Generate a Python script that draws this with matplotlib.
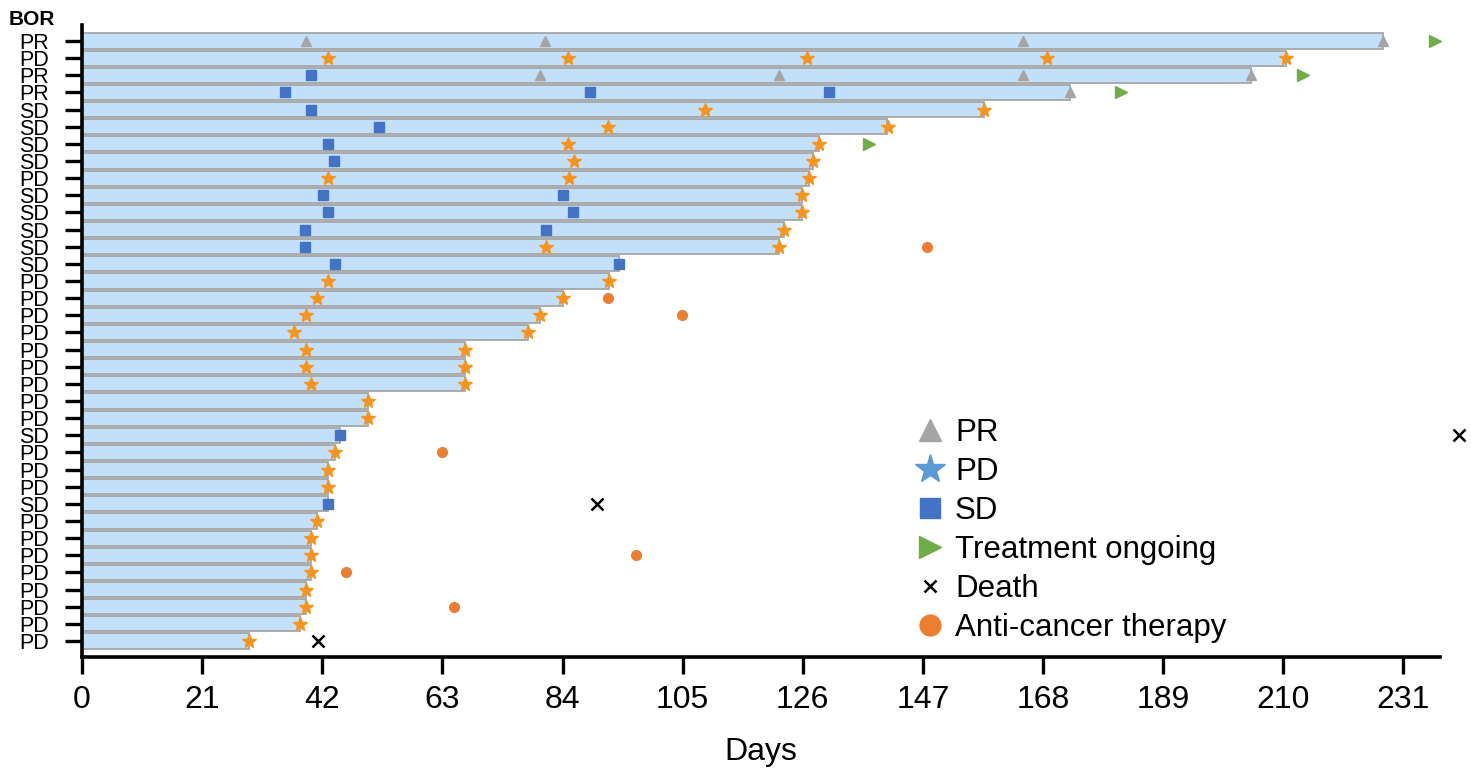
import matplotlib
matplotlib.use("Agg")
import matplotlib.pyplot as plt
from matplotlib.lines import Line2D

plt.rcParams['font.family'] = ['Liberation Sans', 'DejaVu Sans']

# best overall response per patient, top to bottom
bor = ["PR", "PD", "PR", "PR", "SD", "SD", "SD", "SD", "PD", "SD", "SD", "SD",
       "SD", "SD", "PD", "PD", "PD", "PD", "PD", "PD", "PD", "PD", "PD", "SD",
       "PD", "PD", "PD", "SD", "PD", "PD", "PD", "PD", "PD", "PD", "PD", "PD"]

# treatment duration (days)
duration = [227.4, 210.5, 204.4, 172.7, 157.7, 140.7, 128.8, 127.8, 127.1, 125.9,
            125.9, 122.7, 121.9, 93.9, 92.1, 84.1, 80.1, 78.0, 67.0, 67.0, 67.0,
            50.0, 50.0, 45.1, 44.2, 43.0, 43.0, 43.0, 41.1, 40.0, 40.0, 40.0,
            39.2, 39.2, 38.1, 29.2]

# assessments: (row, day)
pr_rows = [0, 0, 0, 0, 2, 2, 2, 2, 3]
pr_days = [39.2, 81.0, 164.5, 227.4, 80.0, 121.9, 164.5, 204.4, 172.7]

pd_rows = [1, 1, 1, 1, 1, 4, 4, 5, 5, 6, 6, 7, 7, 8, 8, 8, 9, 10, 11, 12, 12,
           14, 14, 15, 15, 16, 16, 17, 17, 18, 18, 19, 19, 20, 20, 21, 22, 24,
           25, 26, 28, 29, 30, 31, 32, 33, 34, 35]
pd_days = [43.0, 85.0, 126.7, 168.7, 210.5, 108.9, 157.7, 92.0, 140.9, 85.0, 128.8,
           86.0, 127.8, 43.0, 85.1, 127.1, 125.9, 125.9, 122.7, 81.1, 121.9,
           43.0, 92.1, 41.1, 84.1, 39.2, 80.1, 37.1, 78.0, 39.2, 67.0, 39.2, 67.0,
           40.0, 67.0, 50.0, 50.0, 44.2, 43.0, 43.0, 41.1, 40.0, 40.0, 40.0,
           39.2, 39.2, 38.1, 29.2]

sd_rows = [2, 3, 3, 3, 4, 5, 6, 7, 9, 9, 10, 10, 11, 11, 12, 13, 13, 23, 27]
sd_days = [40.0, 35.5, 88.8, 130.6, 40.0, 51.9, 43.0, 44.0, 42.1, 84.1, 43.0, 85.8,
           39.0, 81.1, 39.0, 44.2, 93.9, 45.1, 43.0]

ongoing_rows = [0, 2, 3, 6]
ongoing_days = [236.5, 213.5, 181.6, 137.6]

death_rows = [23, 27, 35]
death_days = [240.7, 90.0, 41.3]

therapy_rows = [12, 15, 16, 24, 30, 31, 33]
therapy_days = [147.7, 92.0, 104.9, 62.9, 96.9, 46.2, 65.0]

x_ticks = [0, 21, 42, 63, 84, 105, 126, 147, 168, 189, 210, 231]

fig = plt.figure(figsize=(14.71, 7.7), dpi=100)
ax = fig.add_axes([0.0557, 0.1468, 0.9233, 0.8207])

rows = list(range(len(bor)))
ax.barh(rows, duration, height=0.88, left=0, color='#c3e0fb',
        edgecolor='#a6a6a6', linewidth=1.3, zorder=2)

ax.plot(pr_days, pr_rows, linestyle='none', marker='^', color='#a5a5a5',
        markersize=6.5, zorder=3)
ax.plot(pd_days, pd_rows, linestyle='none', marker='*', color='#f7941d',
        markersize=10, zorder=3)
ax.plot(sd_days, sd_rows, linestyle='none', marker='s', color='#4472c4',
        markersize=7.5, zorder=3)
ax.plot(ongoing_days, ongoing_rows, linestyle='none', marker='>', color='#70ad47',
        markersize=8, zorder=3, clip_on=False)
ax.plot(death_days, death_rows, linestyle='none', marker='x', color='black',
        markersize=8, markeredgewidth=1.8, zorder=3, clip_on=False)
ax.plot(therapy_days, therapy_rows, linestyle='none', marker='o', color='#ed7d31',
        markersize=7, zorder=3)

ax.set_xlim(0, 237.4)
ax.set_ylim(35.93, -0.93)
ax.set_xticks(x_ticks)
ax.set_xticklabels([str(t) for t in x_ticks], fontsize=23)
ax.set_yticks(rows)
ax.set_yticklabels(bor, fontsize=15.5)
ax.tick_params(axis='x', direction='out', length=12, width=2.4, pad=8)
ax.tick_params(axis='y', direction='out', length=12, width=2.4, pad=12)

for s in ['top', 'right']:
    ax.spines[s].set_visible(False)
for s in ['left', 'bottom']:
    ax.spines[s].set_linewidth(2.6)

ax.set_xlabel("Days", fontsize=23, labelpad=16)
fig.text(0.006, 0.9675, "BOR", fontsize=15, fontweight='bold', ha='left', va='baseline')

handles = [
    Line2D([], [], linestyle='none', marker='^', color='#a5a5a5', markersize=16),
    Line2D([], [], linestyle='none', marker='*', color='#5b9bd5', markersize=22),
    Line2D([], [], linestyle='none', marker='s', color='#4472c4', markersize=15),
    Line2D([], [], linestyle='none', marker='>', color='#70ad47', markersize=16),
    Line2D([], [], linestyle='none', marker='x', color='black', markersize=8,
           markeredgewidth=1.8),
    Line2D([], [], linestyle='none', marker='o', color='#ed7d31', markersize=15),
]
labels = ["PR", "PD", "SD", "Treatment ongoing", "Death", "Anti-cancer therapy"]
ax.legend(handles, labels, loc='upper left', bbox_to_anchor=(0.613, 0.378),
          frameon=False, fontsize=22.5, handlelength=1.0, handletextpad=0.3,
          labelspacing=0.285, borderpad=0, borderaxespad=0)

fig.savefig("out.png", dpi=100)
